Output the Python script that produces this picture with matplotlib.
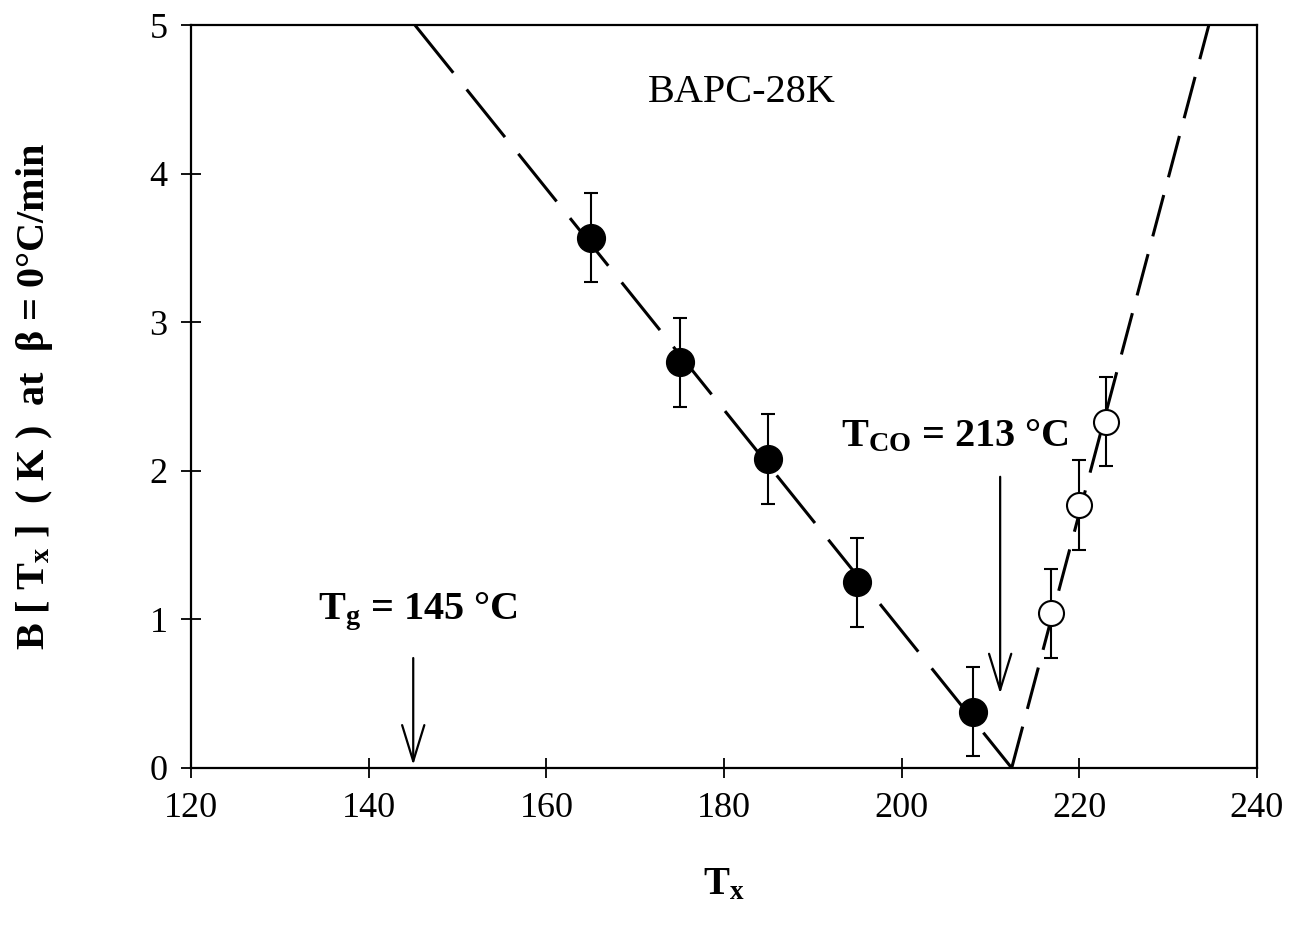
import matplotlib
matplotlib.use("Agg")
import matplotlib.pyplot as plt

plt.rcParams['font.family'] = ['Liberation Serif', 'DejaVu Serif']
plt.rcParams['mathtext.fontset'] = 'custom'
plt.rcParams['mathtext.rm'] = 'Liberation Serif:bold'
plt.rcParams['mathtext.bf'] = 'Liberation Serif:bold'
plt.rcParams['mathtext.it'] = 'Liberation Serif:bold'

# crystallization temperatures and B values, below / above T_CO
tx_low = [165, 175, 185, 195, 208]
b_low = [3.57, 2.73, 2.08, 1.25, 0.38]
err_low = [0.3, 0.3, 0.3, 0.3, 0.3]

tx_high = [216.8, 220, 223]
b_high = [1.04, 1.77, 2.33]
err_high = [0.3, 0.3, 0.3]

# fitted straight lines meeting at B = 0
fit_low_x = [145.2, 212.4]
fit_low_y = [5, 0]
fit_high_x = [212.4, 234.6]
fit_high_y = [0, 5]

fig = plt.figure(figsize=(13.01, 9.32), dpi=100)
ax = fig.add_axes([0.147, 0.176, 0.819, 0.797])

ax.plot(fit_low_x, fit_low_y, color='black', lw=2.2, linestyle=(0, (20, 7)))
ax.plot(fit_high_x, fit_high_y, color='black', lw=2.2, linestyle=(0, (14, 6)))

ax.errorbar(tx_low, b_low, yerr=err_low, fmt='o', color='black', ms=20,
            ecolor='black', elinewidth=1.5, capsize=5, capthick=1.5)
ax.errorbar(tx_high, b_high, yerr=err_high, fmt='o', color='black', ms=18,
            mfc='white', mec='black', mew=1.5,
            ecolor='black', elinewidth=1.5, capsize=5, capthick=1.5)

# arrows marking Tg and T_CO
arrow = dict(arrowstyle='->, head_width=0.8, head_length=2.6', color='black',
             lw=1.6, mutation_scale=10, shrinkA=0, shrinkB=0)
ax.annotate('', xy=(145, 0.02), xytext=(145, 0.74), arrowprops=arrow)
ax.annotate('', xy=(211.1, 0.5), xytext=(211.1, 1.96), arrowprops=arrow)

ax.text(145.5, 1.05, r'T$_\mathbf{g}$ = 145 °C', fontsize=29, fontweight='bold',
        ha='center', va='center')
ax.text(206, 2.23, r'T$_\mathbf{CO}$ = 213 °C', fontsize=29, fontweight='bold',
        ha='center', va='center')
ax.text(182, 4.55, 'BAPC-28K', fontsize=29, ha='center', va='center')

ax.set_xlim(120, 240)
ax.set_ylim(0, 5)
ax.set_xticks([120, 140, 160, 180, 200, 220, 240])
ax.set_yticks([0, 1, 2, 3, 4, 5])
ax.tick_params(direction='inout', length=14, width=1.3, labelsize=26, pad=10)
for s in ax.spines.values():
    s.set_linewidth(1.6)

ax.set_xlabel(r'T$_\mathbf{x}$', fontsize=28, fontweight='bold', labelpad=30)
ax.set_ylabel(r'B [ T$_\mathbf{x}$ ]  ( K )  at  β = 0°C/min', fontsize=29,
              fontweight='bold')
ax.yaxis.set_label_coords(-0.128, 0.5)

fig.savefig('out.png', dpi=100)
